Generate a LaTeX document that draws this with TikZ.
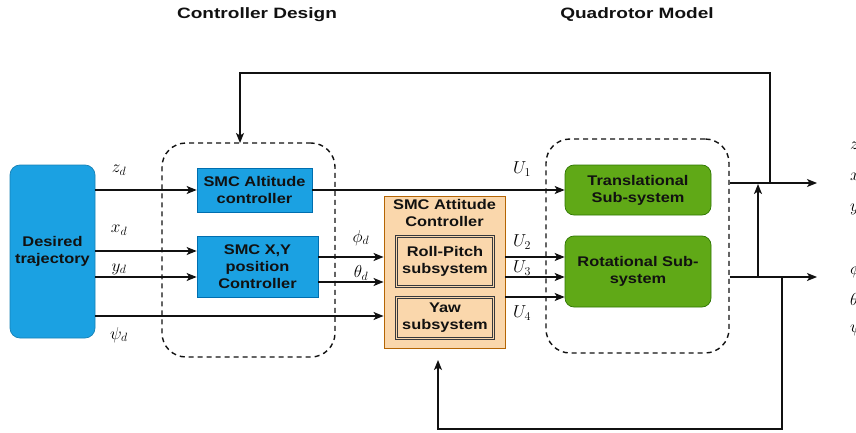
\documentclass[tikz,border=0pt]{standalone}
\usepackage{fontspec}
\setsansfont{Liberation Sans}[FakeStretch=1.17]
\newfontfamily\titlefont{Liberation Sans}[FakeStretch=1.27]
\usetikzlibrary{arrows.meta}
\definecolor{blueF}{HTML}{1BA1E2}
\definecolor{blueB}{HTML}{006EAF}
\definecolor{greenF}{HTML}{60A917}
\definecolor{greenB}{HTML}{2D7600}
\definecolor{peachF}{HTML}{FAD7AC}
\definecolor{peachB}{HTML}{B46504}
\definecolor{darkG}{HTML}{36393D}
\definecolor{txt}{HTML}{111111}
\begin{document}
\begin{tikzpicture}[x=1pt,y=-1pt,
  boxtxt/.style={font=\sffamily\bfseries\fontsize{14}{17}\selectfont, text=txt, align=center, inner sep=0pt},
  bluebox/.style={boxtxt, draw=blueB, fill=blueF, line width=0.7pt},
  greenbox/.style={boxtxt, draw=greenB, fill=greenF, line width=0.7pt, rounded corners=9pt},
  attbox/.style={draw=peachB, fill=peachF, line width=0.9pt, inner sep=0pt},
  subbox/.style={boxtxt, draw=darkG, double=peachF, double distance=0.8pt, line width=1.1pt, fill=peachF},
  dashbox/.style={draw=txt, dash pattern=on 5pt off 4pt, line width=1.4pt, rounded corners=24pt, inner sep=0pt},
  arr/.style={draw=txt, line width=1.4pt, -{Stealth[length=10pt,width=8pt,inset=2.5pt]}},
  ln/.style={draw=txt, line width=1.4pt},
  mlab/.style={font=\fontsize{18}{20}\selectfont, inner sep=0pt},
  ttl/.style={font=\titlefont\bfseries\fontsize{15}{17}\selectfont, text=txt, inner sep=0pt}
]
\useasboundingbox (0,0) rectangle (856,433);

% titles
\node[ttl] (t1) at (257,15) {Controller Design};
\node[ttl] (t2) at (637,15) {Quadrotor Model};

% dashed groups
\node[dashbox, minimum width=173pt, minimum height=214pt] (cd) at (248.5,250) {};
\node[dashbox, minimum width=183pt, minimum height=214pt] (qm) at (637.5,246) {};

% blocks
\node[bluebox, rounded corners=10pt, draw=blueF!80!black, minimum width=85pt, minimum height=173pt] (dt) at (52.5,251.5) {Desired\\trajectory};
\node[bluebox, minimum width=115pt, minimum height=44pt] (alt) at (254.5,190) {SMC Altitude\\controller};
\node[bluebox, minimum width=121pt, minimum height=61pt] (xy) at (257.5,266.5) {SMC X,Y\\position\\Controller};

\node[attbox, minimum width=121pt, minimum height=152pt] (att) at (444.5,272) {};
\node[boxtxt, fill=peachF] (attl) at (444.5,212.5) {SMC Attitude\\Controller};
\node[subbox, minimum width=97pt, minimum height=50pt] (rp) at (445,261.5) {Roll-Pitch\\subsystem};
\node[subbox, minimum width=97pt, minimum height=41pt] (yaw) at (445,318) {Yaw\\subsystem};

\node[greenbox, minimum width=146pt, minimum height=50pt] (tr) at (638,190) {Translational\\Sub-system};
\node[greenbox, minimum width=146pt, minimum height=71pt] (rot) at (638,271.5) {Rotational Sub-\\system};

% coordinates
\coordinate (zd0) at (dt.east |- 0,190);
\coordinate (xd0) at (dt.east |- 0,251);
\coordinate (xd1) at (xy.west |- 0,251);
\coordinate (yd0) at (dt.east |- 0,277);
\coordinate (yd1) at (xy.west |- 0,277);
\coordinate (pd0) at (dt.east |- 0,316);
\coordinate (pd1) at (att.west |- 0,316);
\coordinate (ph0) at (xy.east |- 0,257);
\coordinate (ph1) at (att.west |- 0,257);
\coordinate (th0) at (xy.east |- 0,282);
\coordinate (th1) at (att.west |- 0,282);
\coordinate (u20) at (att.east |- 0,257);
\coordinate (u21) at (rot.west |- 0,257);
\coordinate (u30) at (att.east |- 0,277);
\coordinate (u31) at (rot.west |- 0,277);
\coordinate (u40) at (att.east |- 0,297);
\coordinate (u41) at (rot.west |- 0,297);
\coordinate (o10) at (qm.east |- 0,183);
\coordinate (o11) at (817,183);
\coordinate (o20) at (qm.east |- 0,277);
\coordinate (o21) at (817,277);
\coordinate (fa) at (770,183);
\coordinate (fb) at (770,73);
\coordinate (fc) at (240,73);
\coordinate (fd) at (240,143);
\coordinate (ga) at (782,277);
\coordinate (gb) at (782,429);
\coordinate (gc) at (438,429);
\coordinate (gd) at (438,360);
\coordinate (ha) at (758,277);
\coordinate (hb) at (758,184);

% connectors
\draw[arr] (zd0) -- (alt.west);
\draw[arr] (xd0) -- (xd1);
\draw[arr] (yd0) -- (yd1);
\draw[arr] (pd0) -- (pd1);
\draw[arr] (ph0) -- (ph1);
\draw[arr] (th0) -- (th1);
\draw[arr] (alt.east) -- (tr.west);
\draw[arr] (u20) -- (u21);
\draw[arr] (u30) -- (u31);
\draw[arr] (u40) -- (u41);
\draw[arr] (o10) -- (o11);
\draw[arr] (o20) -- (o21);
\draw[arr] (fa) -- (fb) -- (fc) -- (fd);
\draw[arr] (ga) -- (gb) -- (gc) -- (gd);
\draw[arr] (ha) -- (hb);

% labels
\node[mlab] (lzd) at (119,170) {$z_d$};
\node[mlab] (lxd) at (119,230) {$x_d$};
\node[mlab] (lyd) at (119,269) {$y_d$};
\node[mlab] (lpd) at (119,335) {$\psi_d$};
\node[mlab] (lph) at (361,238) {$\phi_d$};
\node[mlab] (lth) at (361,273) {$\theta_d$};
\node[mlab] (lu1) at (522,169) {$U_1$};
\node[mlab] (lu2) at (522,242) {$U_2$};
\node[mlab] (lu3) at (522,268) {$U_3$};
\node[mlab] (lu4) at (522,313) {$U_4$};

\node[mlab, anchor=west] (rz) at (850,146) {$z$};
\node[mlab, anchor=west] (rx) at (850,177) {$x$};
\node[mlab, anchor=west] (ry) at (850,209) {$y$};
\node[mlab, anchor=west] (rph) at (850,270) {$\phi$};
\node[mlab, anchor=west] (rth) at (850,299) {$\theta$};
\node[mlab, anchor=west] (rps) at (850,328) {$\psi$};
\end{tikzpicture}
\end{document}
